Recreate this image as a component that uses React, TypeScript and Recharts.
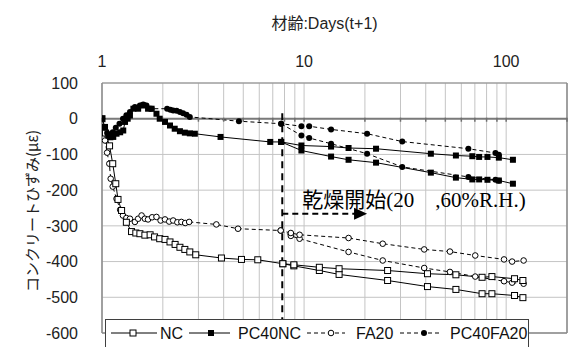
import React from "react";
import {
  LineChart,
  Line,
  XAxis,
  YAxis,
  CartesianGrid,
  ReferenceLine,
  ReferenceDot,
} from "recharts";

// log grid: 1..9, 10..90, 100, 200
const GRID_DAYS = [1, 2, 3, 4, 5, 6, 7, 8, 9, 10, 20, 30, 40, 50, 60, 70, 80, 90, 100, 200];
const LABELED_DAYS = [1, 10, 100];
const STRAIN_TICKS = [-600, -500, -400, -300, -200, -100, 0, 100];

const DRYING_START = 7.8;

// NC (open square, solid)
const ncDays = [1.0, 1.04, 1.09, 1.13, 1.17, 1.2, 1.25, 1.32, 1.4, 1.47, 1.54, 1.63, 1.73, 1.82, 1.93, 2.05, 2.17, 2.3, 2.43, 2.57, 2.72, 2.91, 3.9, 4.9, 5.9, 7.85, 8.9, 11.9, 14.9, 25.9, 40.8, 56.4, 76, 85, 110, 121];
const ncStrain = [0, -40, -76, -126, -182, -226, -257, -290, -316, -320, -322, -326, -325, -331, -336, -338, -345, -352, -360, -366, -373, -381, -390, -394, -395, -406, -409, -416, -420, -425, -434, -437, -444, -442, -448, -453];
const ncDryDays = [7.85, 8.9, 11.9, 14.9, 25.9, 40.8, 56.4, 76, 85, 110, 121];
const ncDryStrain = [-406, -412, -425, -436, -453, -470, -478, -490, -490, -495, -501];

// PC40NC (filled square, solid)
const pcNcDays = [1.0, 1.035, 1.074, 1.1, 1.137, 1.18, 1.23, 1.274, 1.3, 1.34, 1.375, 1.43, 1.51, 1.6, 1.69, 1.76, 1.86, 1.93, 2.05, 2.17, 2.29, 2.43, 2.57, 2.72, 2.88, 3.86, 6.8, 7.7, 9.7, 13.6, 16.6, 22.7, 42.4, 56.4, 68, 73.5, 80.8, 92, 108];
const pcNcStrain = [0, -23, -47, -52, -51, -42, -38, -33, -9, 0, 9, 28, 28, 37, 28, 28, 14, 0, -9, -19, -28, -35, -39, -41, -42, -51, -65, -65, -75, -78, -82, -84, -98, -103, -105, -107, -107, -109, -115];
const pcNcDryDays = [7.7, 9.7, 13.6, 16.6, 22.7, 42.4, 56.4, 68, 73.5, 80.8, 92, 108];
const pcNcDryStrain = [-65, -89, -106, -115, -123, -151, -165, -170, -170, -171, -173, -182];

// FA20 (open circle, dashed)
const faDays = [1.0, 1.035, 1.06, 1.087, 1.104, 1.13, 1.18, 1.23, 1.27, 1.32, 1.375, 1.455, 1.51, 1.57, 1.63, 1.69, 1.77, 1.86, 1.95, 2.05, 2.15, 2.25, 2.36, 2.47, 2.58, 2.7, 3.68, 4.71, 7.66, 8.6, 9.5, 16.6, 24.5, 39.3, 52.7, 70.3, 97.6, 107, 122];
const faStrain = [0, -61, -95, -126, -168, -190, -224, -255, -271, -278, -280, -289, -280, -271, -280, -282, -276, -275, -285, -282, -288, -285, -290, -289, -292, -289, -296, -308, -313, -320, -325, -334, -350, -366, -372, -383, -394, -400, -397];
const faDryDays = [7.66, 8.6, 9.5, 16.6, 24.5, 39.3, 52.7, 70.3, 97.6, 107, 122];
const faDryStrain = [-313, -328, -336, -373, -397, -418, -429, -442, -455, -459, -462];

// PC40FA20 (filled circle, dashed)
const pcFaDays = [1.0, 1.03, 1.06, 1.09, 1.13, 1.17, 1.22, 1.27, 1.32, 1.375, 1.455, 1.54, 1.6, 1.66, 1.76, 2.1, 2.18, 2.25, 2.34, 2.43, 2.52, 2.62, 2.72, 4.76, 7.7, 9.7, 10.6, 13.6, 20.5, 30.6, 65, 88.5, 92];
const pcFaStrain = [0, -25, -40, -45, -38, -25, -14, 0, 10, 19, 33, 37, 40, 37, 28, 28, 25, 23, 22, 19, 15, 11, 5, -7, -14, -21, -21, -30, -42, -64, -84, -96, -101];
const pcFaDryDays = [7.7, 9.7, 10.6, 13.6, 20.5, 30.6, 65, 88.5, 92];
const pcFaDryStrain = [-14, -47, -54, -70, -98, -135, -163, -171, -174];

const toPoints = (days: number[], strain: number[]) =>
  days.map((day, i) => ({ day, strain: strain[i] }));

const SANS = "'Liberation Sans', Arial, sans-serif";
const CJK = "'Noto Sans CJK JP', sans-serif";
const SERIF = "'Liberation Serif', 'Times New Roman', serif";
const BORDER = "#8a8a8a";

const openSquare = (p: any) => (
  <rect key={`os-${p.index}`} x={p.cx - 3} y={p.cy - 3} width={6} height={6} fill="#fff" stroke="#000" strokeWidth={1} />
);
const filledSquare = (p: any) => (
  <rect key={`fs-${p.index}`} x={p.cx - 3} y={p.cy - 3} width={6} height={6} fill="#000" />
);
const openCircle = (p: any) => (
  <circle key={`oc-${p.index}`} cx={p.cx} cy={p.cy} r={2.8} fill="#fff" stroke="#000" strokeWidth={1} />
);
const filledCircle = (p: any) => (
  <circle key={`fc-${p.index}`} cx={p.cx} cy={p.cy} r={3} fill="#000" />
);

const axisTick = (p: any) => (
  <line x1={p.cx} x2={p.cx} y1={p.cy - 1} y2={p.cy + 3} stroke="#6f6f6f" strokeWidth={1.5} />
);

const arrowHead = (p: any) => (
  <polygon points={`${p.cx},${p.cy} ${p.cx - 13},${p.cy - 6} ${p.cx - 13},${p.cy + 6}`} fill="#000" />
);

const dryingLabel = (p: any) => (
  <text x={p.cx} y={p.cy} fontSize={21} fill="#000">
    <tspan fontFamily={CJK}>乾燥開始</tspan>
    <tspan fontFamily={SERIF}>(20</tspan>
    <tspan fontFamily={CJK}>{"\u3000"}</tspan>
    <tspan fontFamily={SERIF}>,60%R.H.)</tspan>
  </text>
);

const LEGEND_ITEMS = [
  { name: "NC", x1: 6, x2: 52, mark: 28, text: 55, dash: undefined, marker: "openSquare" },
  { name: "PC40NC", x1: 84, x2: 125, mark: 106, text: 133, dash: undefined, marker: "filledSquare" },
  { name: "FA20", x1: 202, x2: 240, mark: 226, text: 251, dash: "4 3", marker: "openCircle" },
  { name: "PC40FA20", x1: 295, x2: 337, mark: 319, text: 345, dash: "4 3", marker: "filledCircle" },
];

function LegendBox() {
  return (
    <div style={{ position: "absolute", left: 105, top: 319, width: 424, height: 40 }}>
      <svg width={424} height={40}>
        <rect x={0.5} y={0.5} width={423} height={45} fill="#fff" stroke="#3f3f3f" />
        {LEGEND_ITEMS.map((it) => (
          <g key={it.name}>
            <line x1={it.x1} x2={it.x2} y1={14} y2={14} stroke="#000" strokeDasharray={it.dash} />
            {it.marker === "openSquare" && <rect x={it.mark - 3} y={11} width={6} height={6} fill="#fff" stroke="#000" />}
            {it.marker === "filledSquare" && <rect x={it.mark - 3} y={11} width={6} height={6} fill="#000" />}
            {it.marker === "openCircle" && <circle cx={it.mark} cy={14} r={2.8} fill="#fff" stroke="#000" />}
            {it.marker === "filledCircle" && <circle cx={it.mark} cy={14} r={3} fill="#000" />}
            <text x={it.text} y={14} dominantBaseline="central" fontSize={16} fontFamily={SANS} fill="#111">
              {it.name}
            </text>
          </g>
        ))}
      </svg>
    </div>
  );
}

export default function App() {
  return (
    <div style={{ position: "absolute", left: 0, top: 0, width: 568, height: 347, background: "#fff", overflow: "hidden" }}>
      <LineChart width={568} height={347} margin={{ top: 53, right: 1, bottom: 14, left: 42 }}>
        <CartesianGrid stroke="#c4c4c4" />
        <XAxis
          type="number"
          dataKey="day"
          scale="log"
          domain={[1, 200]}
          allowDataOverflow
          ticks={GRID_DAYS}
          interval={0}
          orientation="top"
          height={30}
          tickLine={false}
          tickSize={0}
          tickMargin={16}
          axisLine={{ stroke: BORDER }}
          tick={{ fontSize: 16, fill: "#222", fontFamily: SANS }}
          tickFormatter={(v: number) => (LABELED_DAYS.includes(v) ? String(v) : "")}
          label={{
            content: ({ viewBox }: any) => (
              <text
                x={viewBox.x + viewBox.width / 2 - 10}
                y={23}
                textAnchor="middle"
                dominantBaseline="central"
                fontSize={16}
                fontFamily={`'Liberation Sans', ${CJK}`}
                fill="#222"
              >
                材齢:Days(t+1)
              </text>
            ),
          }}
        />
        <YAxis
          type="number"
          domain={[-600, 100]}
          ticks={STRAIN_TICKS}
          interval={0}
          width={60}
          tickLine={false}
          tickSize={0}
          tickMargin={24}
          axisLine={{ stroke: BORDER, strokeWidth: 1.5 }}
          tick={{ fontSize: 16, fill: "#222", fontFamily: SANS }}
          label={{
            content: ({ viewBox }: any) => {
              const cx = 31;
              const cy = viewBox.y + viewBox.height / 2 + 3;
              return (
                <text
                  x={cx}
                  y={cy}
                  transform={`rotate(-90 ${cx} ${cy})`}
                  textAnchor="middle"
                  dominantBaseline="central"
                  fontSize={15}
                  fontFamily={CJK}
                  fill="#222"
                >
                  コンクリートひずみ(με)
                </text>
              );
            },
          }}
        />

        <ReferenceLine x={200} stroke={BORDER} strokeWidth={1.5} />
        <ReferenceLine y={-600} stroke={BORDER} strokeWidth={1.5} />
        <ReferenceLine y={0} stroke="#7a7a7a" strokeWidth={2} />
        {GRID_DAYS.map((d) => (
          <ReferenceDot key={`t-${d}`} x={d} y={0} r={0} shape={axisTick} />
        ))}

        <Line data={toPoints(faDryDays, faDryStrain)} dataKey="strain" stroke="#000" strokeWidth={1} strokeDasharray="4 3" dot={openCircle} isAnimationActive={false} legendType="none" />
        <Line data={toPoints(faDays, faStrain)} dataKey="strain" stroke="#000" strokeWidth={1} strokeDasharray="4 3" dot={openCircle} isAnimationActive={false} legendType="none" />
        <Line data={toPoints(ncDryDays, ncDryStrain)} dataKey="strain" stroke="#000" strokeWidth={1} dot={openSquare} isAnimationActive={false} legendType="none" />
        <Line data={toPoints(ncDays, ncStrain)} dataKey="strain" stroke="#000" strokeWidth={1} dot={openSquare} isAnimationActive={false} legendType="none" />
        <Line data={toPoints(pcFaDryDays, pcFaDryStrain)} dataKey="strain" stroke="#000" strokeWidth={1} strokeDasharray="4 3" dot={filledCircle} isAnimationActive={false} legendType="none" />
        <Line data={toPoints(pcFaDays, pcFaStrain)} dataKey="strain" stroke="#000" strokeWidth={1} strokeDasharray="4 3" dot={filledCircle} isAnimationActive={false} legendType="none" />
        <Line data={toPoints(pcNcDryDays, pcNcDryStrain)} dataKey="strain" stroke="#000" strokeWidth={1} dot={filledSquare} isAnimationActive={false} legendType="none" />
        <Line data={toPoints(pcNcDays, pcNcStrain)} dataKey="strain" stroke="#000" strokeWidth={1} dot={filledSquare} isAnimationActive={false} legendType="none" />

        <ReferenceLine
          segment={[{ x: DRYING_START, y: 15 }, { x: DRYING_START, y: -600 }]}
          stroke="#000"
          strokeWidth={2}
          strokeDasharray="7 5"
        />
        <ReferenceLine
          segment={[{ x: DRYING_START, y: -266 }, { x: 19.5, y: -266 }]}
          stroke="#000"
          strokeWidth={2}
          strokeDasharray="6 4"
        />
        <ReferenceDot x={20.5} y={-266} r={0} shape={arrowHead} />
        <ReferenceDot x={9.8} y={-246} r={0} shape={dryingLabel} />
      </LineChart>
      <LegendBox />
    </div>
  );
}
